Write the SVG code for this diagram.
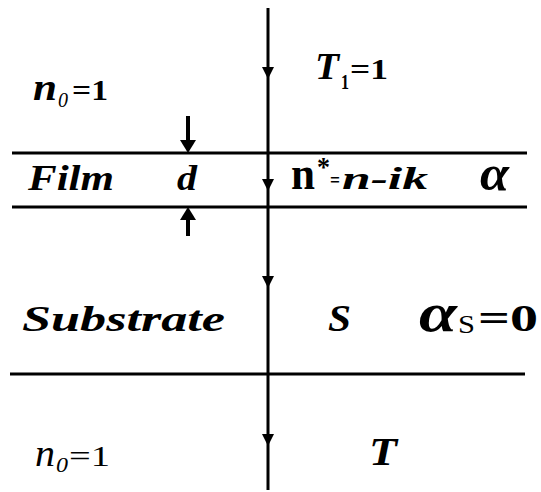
<svg xmlns="http://www.w3.org/2000/svg" xmlns:xlink="http://www.w3.org/1999/xlink" width="541" height="492" viewBox="0 0 541 492">
<style>
.ln{stroke:#000;stroke-width:3;fill:none}
.t{font-family:"Liberation Serif","Times New Roman",serif;fill:#000}
.bi{font-weight:bold;font-style:italic}
.b{font-weight:bold}
.i{font-style:italic}
</style>
<defs>
<path id="ah" d="M-6,-12 L6,-12 L0,0 Z" fill="#000"/>
<path id="dah" d="M-8,-13 L8,-13 L0,0 Z" fill="#000"/>
</defs>
<rect width="541" height="492" fill="#fff"/>
<g id="connectors">
<line class="ln" x1="268" y1="8" x2="268" y2="490"/>
<use xlink:href="#ah" x="268" y="79"/>
<use xlink:href="#ah" x="268" y="191"/>
<use xlink:href="#ah" x="268" y="288"/>
<use xlink:href="#ah" x="268" y="446"/>
<line x1="188" y1="116" x2="188" y2="141" stroke="#000" stroke-width="4"/>
<use xlink:href="#dah" x="188" y="153"/>
<line x1="188" y1="219" x2="188" y2="236" stroke="#000" stroke-width="4"/>
<use xlink:href="#dah" x="188" y="207" transform="rotate(180 188 207)"/>
</g>
<g id="interfaces">
<line class="ln" x1="12" y1="153" x2="527" y2="153"/>
<line class="ln" x1="12" y1="207" x2="527" y2="207"/>
<line class="ln" x1="10" y1="374" x2="525" y2="374"/>
</g>
<g id="ambient-top">
<text class="t bi" x="33" y="100" font-size="38" textLength="24" lengthAdjust="spacingAndGlyphs">n</text>
<text class="t i" x="58" y="107" font-size="22" textLength="10" lengthAdjust="spacingAndGlyphs">0</text>
<text class="t b" x="72" y="100" font-size="30" textLength="36" lengthAdjust="spacingAndGlyphs">=1</text>
<text class="t bi" x="315" y="79" font-size="38" textLength="24" lengthAdjust="spacingAndGlyphs">T</text>
<text class="t b" x="341" y="89" font-size="20" textLength="8" lengthAdjust="spacingAndGlyphs">1</text>
<text class="t b" x="350" y="79" font-size="30" textLength="38" lengthAdjust="spacingAndGlyphs">=1</text>
</g>
<g id="film">
<text class="t bi" x="28" y="190" font-size="36" textLength="86" lengthAdjust="spacingAndGlyphs">Film</text>
<text class="t bi" x="177" y="190" font-size="36" textLength="20" lengthAdjust="spacingAndGlyphs">d</text>
<text class="t b" x="291" y="189" font-size="46" textLength="24" lengthAdjust="spacingAndGlyphs">n</text>
<text class="t b" x="317" y="176" font-size="28" textLength="13" lengthAdjust="spacingAndGlyphs">*</text>
<text class="t b" x="330" y="187" font-size="22" textLength="10" lengthAdjust="spacingAndGlyphs">=</text>
<text class="t bi" x="342" y="189" font-size="32" textLength="86" lengthAdjust="spacingAndGlyphs">n-ik</text>
<text class="t bi" x="480" y="190" font-size="50" textLength="29" lengthAdjust="spacingAndGlyphs">α</text>
</g>
<g id="substrate">
<text class="t bi" x="22" y="331" font-size="36" textLength="203" lengthAdjust="spacingAndGlyphs">Substrate</text>
<text class="t bi" x="328" y="331" font-size="38" textLength="23" lengthAdjust="spacingAndGlyphs">S</text>
<text class="t bi" x="419" y="331" font-size="54" textLength="38" lengthAdjust="spacingAndGlyphs">α</text>
<text class="t" x="458" y="333" font-size="26" textLength="17" lengthAdjust="spacingAndGlyphs">S</text>
<text class="t b" x="478" y="331" font-size="38" textLength="60" lengthAdjust="spacingAndGlyphs">=0</text>
</g>
<g id="ambient-bottom">
<text class="t i" x="35" y="466" font-size="38" textLength="20" lengthAdjust="spacingAndGlyphs">n</text>
<text class="t i" x="56" y="472" font-size="22" textLength="12" lengthAdjust="spacingAndGlyphs">0</text>
<text class="t" x="69" y="466" font-size="30" textLength="41" lengthAdjust="spacingAndGlyphs">=1</text>
<text class="t bi" x="369" y="465" font-size="40" textLength="28" lengthAdjust="spacingAndGlyphs">T</text>
</g>
</svg>
